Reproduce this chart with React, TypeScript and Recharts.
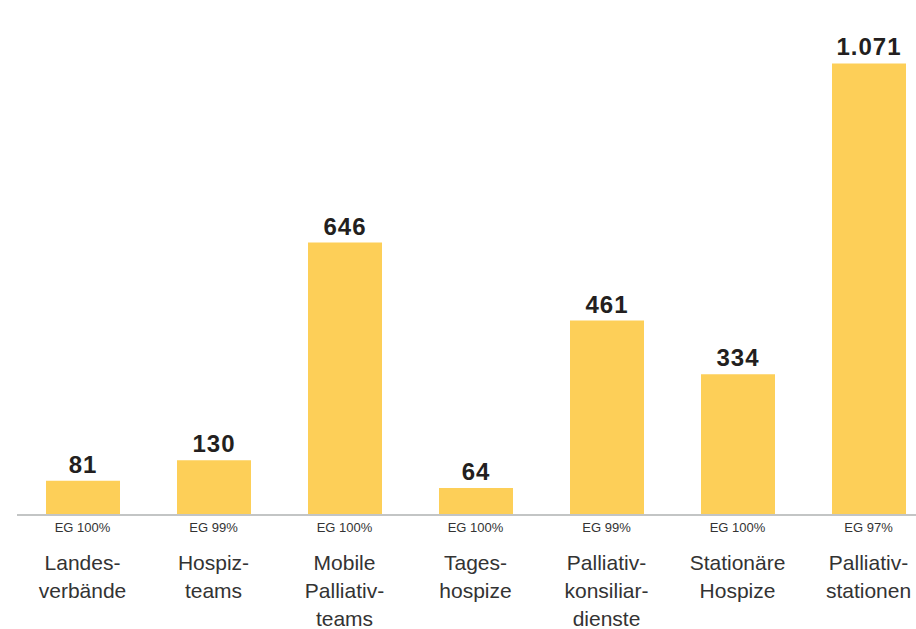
import { BarChart, Bar, XAxis, YAxis, LabelList } from "recharts";

const CATEGORIES = [
  ["Landes-", "verbände"],
  ["Hospiz-", "teams"],
  ["Mobile", "Palliativ-", "teams"],
  ["Tages-", "hospize"],
  ["Palliativ-", "konsiliar-", "dienste"],
  ["Stationäre", "Hospize"],
  ["Palliativ-", "stationen"],
];
const VALUES = [81, 130, 646, 64, 461, 334, 1071];
const EG_LABELS = ["EG 100%", "EG 99%", "EG 100%", "EG 100%", "EG 99%", "EG 100%", "EG 97%"];

const DATA = CATEGORIES.map((lines, i) => ({
  name: lines.join(" "),
  value: VALUES[i],
}));

const fmt = (v: number) =>
  String(v).replace(/\B(?=(\d{3})+(?!\d))/g, ".");

const CategoryTick = ({ x, y, payload }: any) => {
  const i = payload.index;
  const lines = CATEGORIES[i];
  return (
    <g>
      <text x={x} y={y + 17} textAnchor="middle" fontSize={13} fill="#333">
        {EG_LABELS[i]}
      </text>
      {lines.map((l, k) => (
        <text key={k} x={x} y={y + 55 + k * 28} textAnchor="middle" fontSize={21} fill="#333">
          {l}
        </text>
      ))}
    </g>
  );
};

export default function App() {
  return (
    <div
      style={{
        position: "absolute",
        left: 0,
        top: 0,
        width: 916,
        height: 629,
        overflow: "hidden",
        fontFamily: "'Liberation Sans', Arial, sans-serif",
      }}
    >
      <BarChart
        width={940}
        height={629}
        data={DATA}
        margin={{ top: 9, right: 6, left: 17, bottom: 0 }}
        barCategoryGap={0}
      >
        <XAxis
          dataKey="name"
          height={114}
          interval={0}
          tickLine={false}
          tickSize={0}
          tickMargin={0}
          axisLine={{ stroke: "#c3c5c5", strokeWidth: 2 }}
          tick={<CategoryTick />}
        />
        <YAxis hide domain={[0, 1200]} />
        <Bar dataKey="value" fill="#fdcf58" barSize={74} isAnimationActive={false}>
          <LabelList
            dataKey="value"
            position="top"
            offset={8}
            formatter={(v: any) => fmt(v)}
            style={{ fontSize: 24, fontWeight: 700, fill: "#231f20", letterSpacing: 1 }}
          />
        </Bar>
      </BarChart>
    </div>
  );
}
